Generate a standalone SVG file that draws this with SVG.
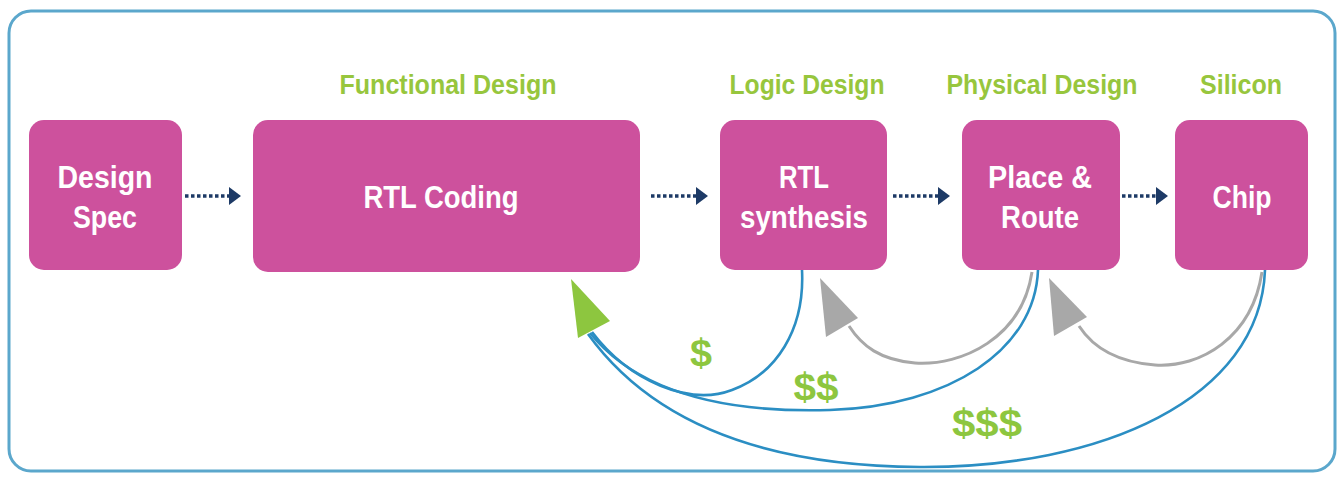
<svg xmlns="http://www.w3.org/2000/svg" width="1343" height="480" viewBox="0 0 1343 480">
<style>
.node{fill:#cd519d}
.nt{font-family:"Liberation Sans",Arial,sans-serif;font-weight:bold;font-size:31px;fill:#ffffff;text-anchor:middle}
.lbl{font-family:"Liberation Sans",Arial,sans-serif;font-weight:bold;font-size:27px;fill:#97c63d;text-anchor:middle}
.cost{font-family:"Liberation Sans",Arial,sans-serif;font-weight:bold;font-size:38px;fill:#8dc63f;text-anchor:middle}
.dot{stroke:#1d3a66;stroke-width:3.5;stroke-dasharray:3.5 2.5;fill:none}
.ah{fill:#1d3a66}
.blue{stroke:#2b8ec3;stroke-width:2.6;fill:none}
.gray{stroke:#a8a8a8;stroke-width:3;fill:none}
</style>
<rect x="0" y="0" width="1343" height="480" fill="#ffffff"/>
<rect x="9" y="11" width="1326" height="460" rx="22" ry="22" fill="#ffffff" stroke="#5ba7cc" stroke-width="3"/>

<g id="labels">
<text class="lbl" x="448" y="94" textLength="217" lengthAdjust="spacingAndGlyphs">Functional Design</text>
<text class="lbl" x="807" y="94" textLength="155" lengthAdjust="spacingAndGlyphs">Logic Design</text>
<text class="lbl" x="1042" y="94" textLength="191" lengthAdjust="spacingAndGlyphs">Physical Design</text>
<text class="lbl" x="1241" y="94" textLength="82" lengthAdjust="spacingAndGlyphs">Silicon</text>
</g>

<g id="design-spec">
<rect class="node" x="29" y="120" width="153" height="150" rx="15"/>
<text class="nt" x="105" y="188" textLength="95" lengthAdjust="spacingAndGlyphs">Design</text>
<text class="nt" x="105" y="228" textLength="64" lengthAdjust="spacingAndGlyphs">Spec</text>
</g>
<g id="rtl-coding">
<rect class="node" x="253" y="120" width="387" height="152" rx="15"/>
<text class="nt" x="441" y="208" textLength="155" lengthAdjust="spacingAndGlyphs">RTL Coding</text>
</g>
<g id="rtl-synthesis">
<rect class="node" x="720" y="120" width="167" height="150" rx="15"/>
<text class="nt" x="804" y="188" textLength="50" lengthAdjust="spacingAndGlyphs">RTL</text>
<text class="nt" x="804" y="228" textLength="128" lengthAdjust="spacingAndGlyphs">synthesis</text>
</g>
<g id="place-route">
<rect class="node" x="962" y="120" width="158" height="150" rx="15"/>
<text class="nt" x="1040" y="188" textLength="104" lengthAdjust="spacingAndGlyphs">Place &amp;</text>
<text class="nt" x="1040" y="228" textLength="78" lengthAdjust="spacingAndGlyphs">Route</text>
</g>
<g id="chip">
<rect class="node" x="1175" y="120" width="133" height="150" rx="15"/>
<text class="nt" x="1242" y="208" textLength="59" lengthAdjust="spacingAndGlyphs">Chip</text>
</g>

<g id="connectors">
<line class="dot" x1="185" y1="196" x2="229" y2="196"/>
<polygon class="ah" points="229,187 241,196 229,205"/>
<line class="dot" x1="651" y1="196" x2="696" y2="196"/>
<polygon class="ah" points="696,187 708,196 696,205"/>
<line class="dot" x1="893" y1="196" x2="938" y2="196"/>
<polygon class="ah" points="938,187 950,196 938,205"/>
<line class="dot" x1="1122" y1="196" x2="1156" y2="196"/>
<polygon class="ah" points="1156,187 1168,196 1156,205"/>

<path class="blue" d="M 592 332 C 630 382, 690 406, 732 390 C 776 374, 805 330, 802 270"/>
<path class="blue" d="M 590 333 C 640 395, 730 413, 830 410 C 950 406, 1035 350, 1038 270"/>
<path class="blue" d="M 588 334 C 650 420, 760 466, 920 467 C 1100 468, 1260 400, 1265 270"/>

<path class="gray" d="M 1032 272 C 1022 338, 962 366, 915 363 C 880 360, 862 346, 849 326"/>
<polygon fill="#a8a8a8" points="820,278 858,318 826,337"/>
<path class="gray" d="M 1262 272 C 1252 338, 1200 368, 1155 365 C 1115 362, 1092 346, 1079 326"/>
<polygon fill="#a8a8a8" points="1049,278 1087,317 1054,336"/>

<polygon fill="#8dc63f" points="571,279 610,321 578,338"/>
</g>

<g id="costs">
<text class="cost" x="701" y="366" textLength="22" lengthAdjust="spacingAndGlyphs">$</text>
<text class="cost" x="816" y="400" textLength="45" lengthAdjust="spacingAndGlyphs">$$</text>
<text class="cost" x="987" y="436" textLength="70" lengthAdjust="spacingAndGlyphs">$$$</text>
</g>
</svg>
